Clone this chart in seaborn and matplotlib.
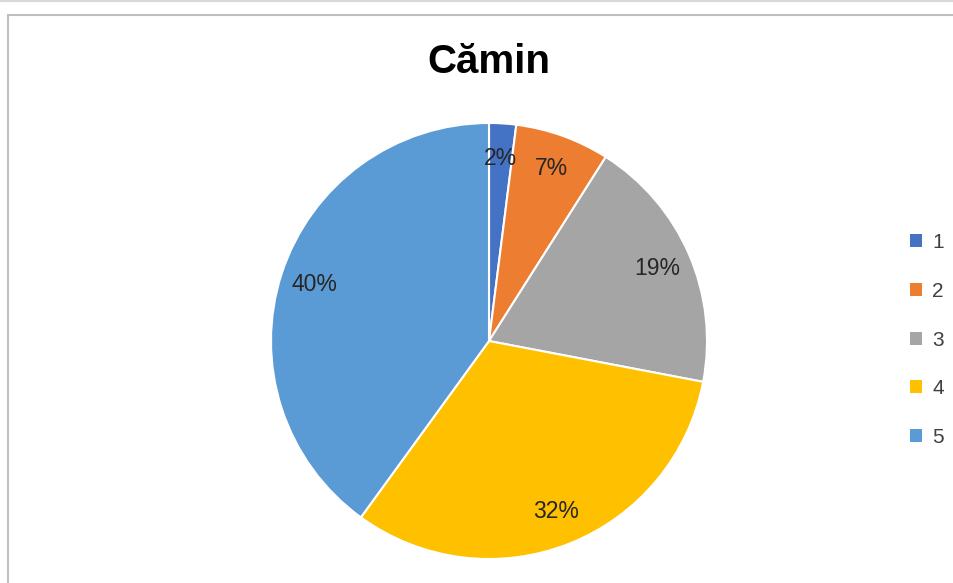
import matplotlib.pyplot as plt
import seaborn as sns
from matplotlib.patches import Patch
from matplotlib.lines import Line2D

# Chart data
categories = ["1", "2", "3", "4", "5"]
shares = [2, 7, 19, 32, 40]
colors = ["#4472C4", "#ED7D31", "#A5A5A5", "#FFC000", "#5B9BD5"]
title = "Cămin"

sns.set_theme(style="white")
plt.rcParams["font.family"] = ["Liberation Sans", "DejaVu Sans"]

W, H = 954, 583
fig = plt.figure(figsize=(W / 100, H / 100), dpi=100)
fig.patch.set_facecolor("white")

# pie centred at (489, 341) px, radius 218 px
cx, cy, r = 489, 341, 218
ax = fig.add_axes([(cx - r) / W, (H - cy - r) / H, 2 * r / W, 2 * r / H])
wedges, texts, autotexts = ax.pie(
    shares, colors=colors, startangle=90, counterclock=False,
    autopct="%1.0f%%", pctdistance=0.84,
    wedgeprops=dict(edgecolor="white", linewidth=1.5),
    textprops=dict(color="#262626", fontsize=16.5),
)
ax.set_xlim(-1, 1)
ax.set_ylim(-1, 1)
ax.set_aspect("equal")

fig.text(cx / W, 1 - 62 / H, title, ha="center", va="center",
         fontsize=29, fontweight="bold", color="black")

handles = [Patch(facecolor=c, edgecolor="none") for c in colors]
fig.legend(handles, categories, loc="center left",
           bbox_to_anchor=(891 / W, 1 - 340 / H), frameon=False,
           fontsize=15, labelcolor="#404040", handlelength=0.58,
           handleheight=0.58, handletextpad=0.5, labelspacing=1.42)

# chart frame and separator line
grey = "#bfbfbf"
fig.add_artist(Line2D([0, 1], [1 - 1 / H, 1 - 1 / H], color="#d9d9d9", lw=1.5))
fig.add_artist(Line2D([8 / W, 8 / W], [0, 1 - 15 / H], color=grey, lw=1.5))
fig.add_artist(Line2D([8 / W, 1], [1 - 15 / H, 1 - 15 / H], color=grey, lw=1.5))

fig.savefig("out.png", dpi=100, facecolor="white")
